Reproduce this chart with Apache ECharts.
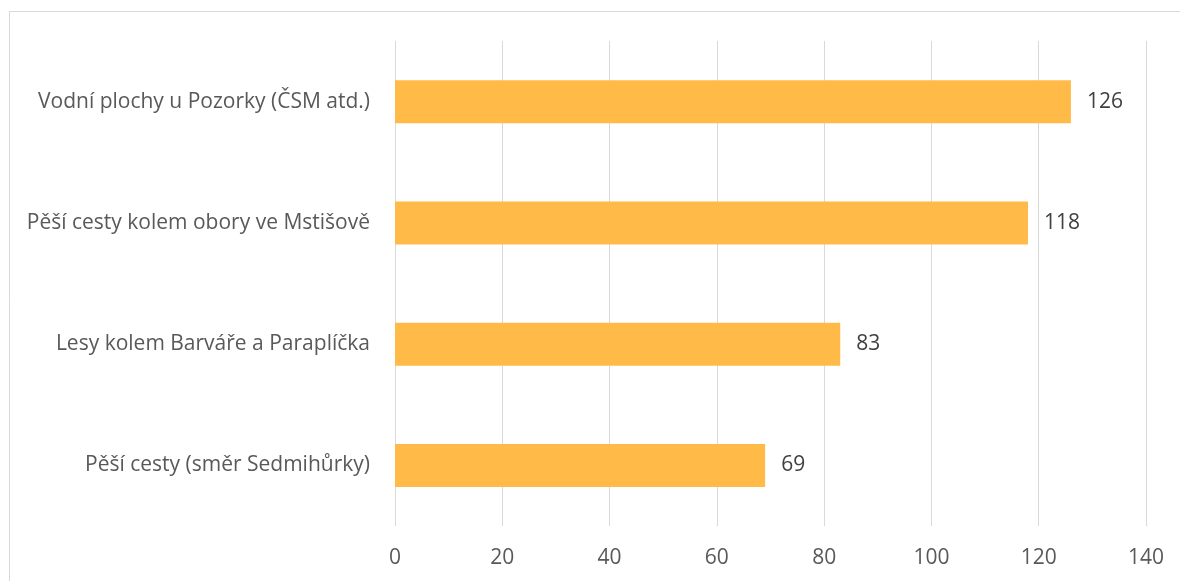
<!DOCTYPE html>
<html><head><meta charset="utf-8">
<script src="https://cdn.jsdelivr.net/npm/echarts@6/dist/echarts.min.js"></script>
<style>html,body{margin:0;padding:0;background:#fff}#c{width:1180px;height:581px}</style>
</head><body><div id="c"></div>
<script>
const categories = ["Pěší cesty (směr Sedmihůrky)", "Lesy kolem Barváře a Paraplíčka", "Pěší cesty kolem obory ve Mstišově", "Vodní plochy u Pozorky (ČSM atd.)"];
const values = [69, 83, 118, 126];
const xTicks = [0, 20, 40, 60, 80, 100, 120, 140];

const chart = echarts.init(document.getElementById('c'), null, {renderer: 'canvas'});
const font = '"Open Sans", sans-serif';
chart.setOption({
  animation: false,
  graphic: [{type: 'rect', shape: {x: 9.5, y: 11.5, width: 1300, height: 700}, style: {fill: 'none', stroke: '#D9D9D9', lineWidth: 1}, silent: true}],
  grid: {left: 395, right: 34, top: 41, bottom: 55},
  xAxis: {
    type: 'value', min: xTicks[0], max: xTicks[xTicks.length - 1], interval: 20,
    axisLine: {show: false}, axisTick: {show: false},
    splitLine: {lineStyle: {color: '#D9D9D9', width: 1}},
    axisLabel: {color: '#595959', fontSize: 21, fontFamily: font, margin: 22}
  },
  yAxis: {
    type: 'category', data: categories,
    axisLine: {show: false}, axisTick: {show: false},
    axisLabel: {color: '#595959', fontSize: 21, fontFamily: font, margin: 25}
  },
  series: [{
    type: 'bar', data: values, barWidth: 43,
    itemStyle: {color: '#FFBA47'},
    label: {show: true, position: 'right', distance: 16, color: '#404040', fontSize: 21, fontFamily: font}
  }]
});
</script></body></html>
